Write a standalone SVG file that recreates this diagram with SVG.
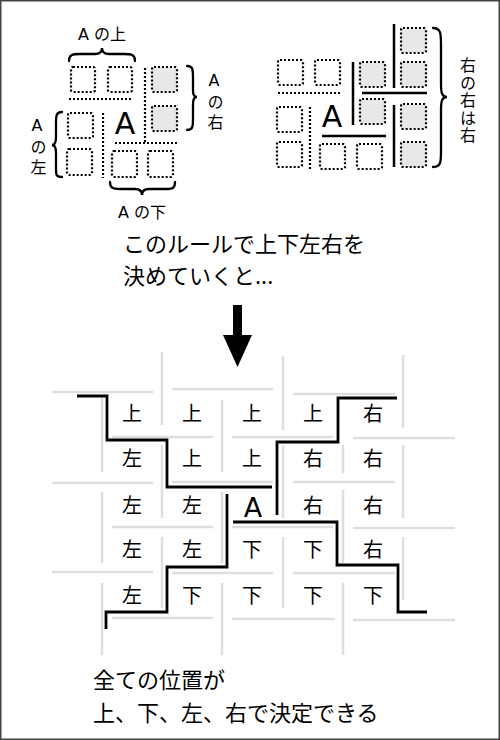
<svg xmlns="http://www.w3.org/2000/svg" width="500" height="740" viewBox="0 0 500 740">
<style>
.frame{fill:#fff;stroke:#444;stroke-width:1.5}
.dsq{fill:#fff;stroke:#000;stroke-width:2.2;stroke-dasharray:2 2}
.gsq{fill:#e8e8e8;stroke:#000;stroke-width:2.2;stroke-dasharray:2 2}
.dline{fill:none;stroke:#000;stroke-width:2.2;stroke-dasharray:2 2}
.bline{fill:none;stroke:#000;stroke-width:2.5}
.brace{fill:none;stroke:#000;stroke-width:2.3;stroke-linecap:round}
.grid{fill:none;stroke:#dedede;stroke-width:2.5}
.path{fill:none;stroke:#000;stroke-width:2.8}
.jp{font-family:"Noto Sans CJK JP","DejaVu Sans",sans-serif;fill:#000}
.lat{font-family:"DejaVu Sans","Noto Sans CJK JP",sans-serif;fill:#000}
.cell{font-family:"Noto Sans CJK JP",sans-serif;font-size:20px;text-anchor:middle;dominant-baseline:central;fill:#000}
.vert{font-family:"DejaVu Sans","Noto Sans CJK JP",sans-serif;font-size:16px;fill:#000;writing-mode:vertical-rl;text-orientation:upright}
</style>
<rect class="frame" x="0.75" y="0.75" width="498.5" height="738.5"/>

<g id="left-diagram">
  <text class="lat" x="102" y="40" font-size="16" text-anchor="middle">A の上</text>
  <path class="brace" d="M69,61 C69,55 72,54 80,54 L95,54 C100,54 102,52 102,48 C102,52 104,54 109,54 L124,54 C132,54 135,55 135,61"/>
  <rect class="dsq" x="71" y="67" width="24" height="25" rx="2"/>
  <rect class="dsq" x="108" y="67" width="24" height="25" rx="2"/>
  <rect class="gsq" x="152" y="67" width="25" height="25" rx="2"/>
  <rect class="gsq" x="152" y="106" width="25" height="25" rx="2"/>
  <path class="dline" d="M69,99 H133"/>
  <path class="dline" d="M145,68 V142"/>
  <path class="brace" d="M187,66 C193,66 193,70 193,78 L193,90 C193,95 194,97 197,97 C194,97 193,99 193,104 L193,118 C193,126 193,130 187,130"/>
  <text class="vert" x="214" y="71" letter-spacing="4">Aの右</text>
  <rect class="dsq" x="68" y="113" width="25" height="25" rx="2"/>
  <path class="dline" d="M103,113 V178"/>
  <text class="lat" x="125" y="134" font-size="30" text-anchor="middle">A</text>
  <path class="dline" d="M115,143 H178"/>
  <rect class="dsq" x="67" y="149" width="25" height="26" rx="2"/>
  <rect class="dsq" x="112" y="151" width="25" height="26" rx="2"/>
  <rect class="dsq" x="148" y="151" width="25" height="26" rx="2"/>
  <path class="brace" d="M62,112 C56,112 56,116 56,124 L56,137 C56,142 55,145 52,145 C55,145 56,148 56,153 L56,168 C56,175 56,177 62,177"/>
  <text class="vert" x="37" y="116" letter-spacing="4">Aの左</text>
  <path class="brace" d="M110,182 C110,188 113,189 120,189 L135,189 C140,189 142,191 142,195 C142,191 144,189 149,189 L166,189 C173,189 175,188 175,182"/>
  <text class="lat" x="142" y="218" font-size="16" text-anchor="middle">A の下</text>
</g>

<g id="right-diagram">
  <rect class="dsq" x="278" y="60" width="25" height="25" rx="2"/>
  <rect class="dsq" x="315" y="60" width="25" height="25" rx="2"/>
  <path class="dline" d="M278,93 H340"/>
  <rect class="gsq" x="360" y="62" width="25" height="25" rx="2"/>
  <rect class="gsq" x="360" y="99" width="25" height="25" rx="2"/>
  <rect class="gsq" x="401" y="28" width="25" height="25" rx="2"/>
  <rect class="gsq" x="401" y="62" width="25" height="25" rx="2"/>
  <rect class="gsq" x="401" y="104" width="25" height="25" rx="2"/>
  <rect class="gsq" x="401" y="142" width="25" height="25" rx="2"/>
  <path class="bline" d="M353,62 V125"/>
  <path class="bline" d="M394,24 V88"/>
  <path class="bline" d="M394,105 V167"/>
  <path class="bline" d="M362,93 H427"/>
  <path class="bline" d="M322,136 H386"/>
  <rect class="dsq" x="277" y="107" width="25" height="25" rx="2"/>
  <rect class="dsq" x="277" y="142" width="25" height="25" rx="2"/>
  <path class="dline" d="M310,107 V170"/>
  <text class="lat" x="332" y="127" font-size="30" text-anchor="middle">A</text>
  <rect class="dsq" x="320" y="144" width="25" height="25" rx="2"/>
  <rect class="dsq" x="357" y="144" width="25" height="25" rx="2"/>
  <path class="brace" d="M433,28 C441,28 441,34 441,45 L441,84 C441,93 442,97 447,97 C442,97 441,101 441,110 L441,151 C441,162 441,167 433,167"/>
  <text class="jp" x="468" y="57" font-size="16" style="writing-mode:vertical-rl" letter-spacing="1.5">右の右は右</text>
</g>

<g id="caption-top">
  <text class="jp" x="123" y="252" font-size="22">このルールで上下左右を</text>
  <text class="jp" x="123" y="284" font-size="22">決めていくと...</text>
</g>

<g id="arrow">
  <rect x="233" y="305" width="9" height="31" fill="#000"/>
  <polygon points="223,335 252,335 237.5,367" fill="#000"/>
</g>

<g id="grid-lines">
  <path class="grid" d="M52,392 H153 M172,389 H273 M293,394 H395"/>
  <path class="grid" d="M112,437 H213 M232,437 H333 M353,438 H455"/>
  <path class="grid" d="M52,483 H153 M172,482 H273 M293,482 H395"/>
  <path class="grid" d="M112,527 H213 M232,527 H333 M353,528 H455"/>
  <path class="grid" d="M52,572 H153 M172,573 H273 M293,573 H395"/>
  <path class="grid" d="M112,618 H213 M232,619 H335 M353,620 H455"/>
  <path class="grid" d="M162,352 V425 M283,356 V430 M403,355 V428"/>
  <path class="grid" d="M102,398 V472 M222,400 V472 M343,445 V473"/>
  <path class="grid" d="M162,445 V518 M283,445 V518 M403,445 V518"/>
  <path class="grid" d="M102,492 V563 M222,492 V563 M343,490 V563"/>
  <path class="grid" d="M162,537 V608 M283,537 V608 M403,537 V600"/>
  <path class="grid" d="M102,583 V655 M222,583 V655 M343,583 V655"/>
</g>

<g id="grid-cells">
  <text class="cell" x="132" y="412">上</text>
  <text class="cell" x="192" y="412">上</text>
  <text class="cell" x="252" y="412">上</text>
  <text class="cell" x="313" y="412">上</text>
  <text class="cell" x="373" y="412">右</text>
  <text class="cell" x="132" y="457">左</text>
  <text class="cell" x="192" y="457">上</text>
  <text class="cell" x="252" y="457">上</text>
  <text class="cell" x="313" y="457">右</text>
  <text class="cell" x="373" y="457">右</text>
  <text class="cell" x="132" y="504">左</text>
  <text class="cell" x="192" y="504">左</text>
  <text class="lat" x="253" y="517" font-size="27" text-anchor="middle">A</text>
  <text class="cell" x="313" y="504">右</text>
  <text class="cell" x="373" y="504">右</text>
  <text class="cell" x="132" y="548">左</text>
  <text class="cell" x="192" y="548">左</text>
  <text class="cell" x="252" y="548">下</text>
  <text class="cell" x="313" y="548">下</text>
  <text class="cell" x="373" y="548">右</text>
  <text class="cell" x="132" y="594">左</text>
  <text class="cell" x="192" y="594">下</text>
  <text class="cell" x="252" y="594">下</text>
  <text class="cell" x="313" y="594">下</text>
  <text class="cell" x="373" y="594">下</text>
</g>

<g id="boundaries">
  <path class="path" d="M77,396 H107 V440 H167 V487 H272"/>
  <path class="path" d="M277,515 V442 H338 V398 H397"/>
  <path class="path" d="M233,522 H337 V565 H398 V612 H427"/>
  <path class="path" d="M227,494 V567 H167 V612 H106 V629"/>
</g>

<g id="caption-bottom">
  <text class="jp" x="93" y="688" font-size="22">全ての位置が</text>
  <text class="jp" x="93" y="721" font-size="22">上、下、左、右で決定できる</text>
</g>
</svg>
